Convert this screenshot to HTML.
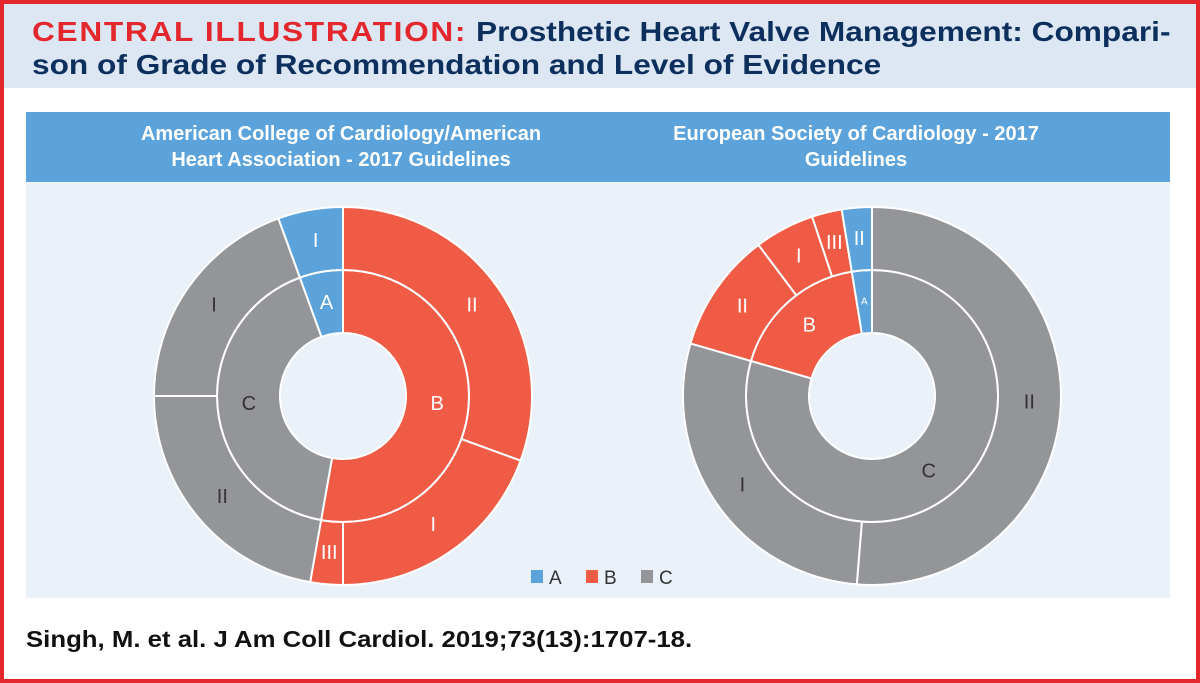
<!DOCTYPE html>
<html><head><meta charset="utf-8"><style>
body{margin:0;width:1200px;height:683px;overflow:hidden;background:#fff;font-family:"Liberation Sans",sans-serif}
#frame{position:absolute;left:0;top:0;width:1192px;height:675px;border:4px solid #e4262d}
#title{position:absolute;left:4px;top:4px;width:1192px;height:84px;background:#dde7f3}
.tl{position:absolute;left:28px;white-space:nowrap;font-weight:bold;font-size:28px;color:#0d2f5e;transform-origin:0 0;transform:scaleX(1.13)}
.red{color:#e4262d;letter-spacing:1.5px}
#hdr{position:absolute;left:26px;top:112px;width:1144px;height:70px;background:#5ba3da}
.ht{position:absolute;top:9px;width:520px;text-align:center;color:#fff;font-weight:bold;font-size:20px;line-height:26px}
#plot{position:absolute;left:26px;top:182px;width:1144px;height:416px;background:#eaf1f9}
#foot{position:absolute;left:26px;top:626px;font-weight:bold;font-size:23px;color:#111;white-space:nowrap;transform-origin:0 0;transform:scaleX(1.12)}
</style></head><body>
<div id="frame"></div>
<div id="title">
<div class="tl" style="top:12px"><span class="red">CENTRAL ILLUSTRATION:</span> Prosthetic Heart Valve Management: Compari-</div>
<div class="tl" style="top:45px">son of Grade of Recommendation and Level of Evidence</div>
</div>
<div id="hdr">
<div class="ht" style="left:55px">American College of Cardiology/American<br>Heart Association - 2017 Guidelines</div>
<div class="ht" style="left:570px">European Society of Cardiology - 2017<br>Guidelines</div>
</div>
<div id="plot"></div>
<svg id="svg" width="1200" height="683" style="position:absolute;left:0;top:0"></svg>
<div id="foot">Singh, M. et al. J Am Coll Cardiol. 2019;73(13):1707-18.</div>
<script>
// ACC/AHA (left) — counts
const leftInnerCats = ["A","B","C"];
const leftInnerVals = [2, 19, 15];
const leftOuterCats = ["A","B","B","B","C","C"];
const leftOuterLabels = ["I","II","I","III","II","I"];
const leftOuterVals = [2, 11, 7, 1, 8, 7];
// ESC (right)
const rightInnerCats = ["C","B","A"];
const rightInnerVals = [31, 7, 1];
const rightOuterCats = ["C","C","B","B","B","A"];
const rightOuterLabels = ["II","I","II","I","III","II"];
const rightOuterVals = [20, 11, 4, 2, 1, 1];
const legendCats = ["A","B","C"];

const colors={A:"#5ba3da",B:"#ef5b45",C:"#939598"};
const txtCol={A:"#fff",B:"#fff",C:"#333"};
const svg=document.getElementById('svg');
const NS="http://www.w3.org/2000/svg";
function pt(cx,cy,r,a){const t=a*Math.PI/180;return [cx+r*Math.sin(t),cy-r*Math.cos(t)];}
function ring(cx,cy,r0,r1,cats,vals,labels,name,startRot){
  const tot=vals.reduce((a,b)=>a+b,0);let a=startRot;
  vals.forEach((v,i)=>{
    const span=v/tot*360,a1=a+span;
    const p1=pt(cx,cy,r1,a),p2=pt(cx,cy,r1,a1),p3=pt(cx,cy,r0,a1),p4=pt(cx,cy,r0,a);
    const lg=span>180?1:0;
    const p=document.createElementNS(NS,'path');
    p.setAttribute('d',`M${p1}A${r1},${r1} 0 ${lg} 1 ${p2}L${p3}A${r0},${r0} 0 ${lg} 0 ${p4}Z`);
    p.setAttribute('fill',colors[cats[i]]);p.setAttribute('stroke','#fff');p.setAttribute('stroke-width','2');
    
    
    svg.appendChild(p);
    const m=pt(cx,cy,(r0+r1)/2,a+span/2);
    const t=document.createElementNS(NS,'text');
    t.setAttribute('x',m[0]);t.setAttribute('y',m[1]);
    t.setAttribute('text-anchor','middle');t.setAttribute('dominant-baseline','central');
    t.setAttribute('font-size',span<12&&!labels?10:20);
    t.setAttribute('font-family','Liberation Sans, sans-serif');
    t.setAttribute('fill',txtCol[cats[i]]);
    t.textContent=labels?labels[i]:cats[i];
    
    
    svg.appendChild(t);
    a=a1;
  });
}
ring(343,396,63,126,leftInnerCats.slice(1).concat(["A"]),leftInnerVals.slice(1).concat([leftInnerVals[0]]),null,'left-inner',0);
ring(343,396,126,189,leftOuterCats.slice(1).concat([leftOuterCats[0]]),leftOuterVals.slice(1).concat([leftOuterVals[0]]),leftOuterLabels.slice(1).concat([leftOuterLabels[0]]),'left-outer',0);
ring(872,396,63,126,rightInnerCats,rightInnerVals,null,'right-inner',0);
ring(872,396,126,189,rightOuterCats,rightOuterVals,rightOuterLabels,'right-outer',0);
legendCats.forEach((c,i)=>{
  const x=531+i*55;
  const r=document.createElementNS(NS,'rect');
  r.setAttribute('x',x);r.setAttribute('y',570);r.setAttribute('width',12);r.setAttribute('height',13);r.setAttribute('fill',colors[c]);
  
  
  svg.appendChild(r);
  const t=document.createElementNS(NS,'text');
  t.setAttribute('x',x+18);t.setAttribute('y',584);t.setAttribute('font-size',19);t.setAttribute('fill','#333');
  t.setAttribute('font-family','Liberation Sans, sans-serif');t.textContent=c;
  
  
  svg.appendChild(t);
});
</script>
</body></html>
